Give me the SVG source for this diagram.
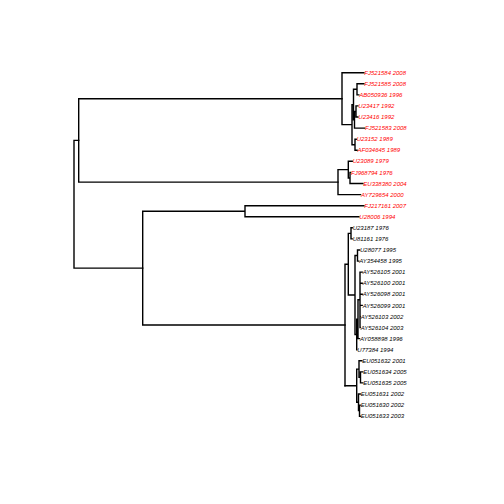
<svg xmlns="http://www.w3.org/2000/svg" width="504" height="504" viewBox="0 0 504 504">
<style>
.e{fill:none;stroke:#000;stroke-width:1.4;stroke-linecap:square}
text{font-family:"Liberation Sans",Arial,sans-serif;font-size:6px;font-style:italic}
.r{fill:#FF0000}
.k{fill:#000}
</style>
<rect width="504" height="504" fill="#fff"/>
<g id="connectors">
<!-- root -->
<path class="e" d="M74 140.4V268.1 M74 140.4H78.7 M74 268.1H142.7"/>
<!-- red super clade -->
<path class="e" d="M78.7 98.7V182.1 M78.7 98.7H342 M78.7 182.1H338"/>
<!-- red group 1 -->
<path class="e" d="M342 72.7V124.6 M342 72.7H363.8 M342 124.6H352 M352 104.6V144.7 M352 144.7H355 M355 139.2V150.3 M355 139.2H356.2 M355 150.3H357 M352 104.6H353.5 M353.5 89.3V119.8 M353.5 89.3H357 M357 83.8V94.9 M357 83.8H363.8 M357 94.9H358.8 M353.5 119.8H354.5 M354.5 111.5V128.1 M354.5 128.1H364.5 M354.5 111.5H356 M356 105.9V117 M356 105.9H357.8 M356 117H357.8"/>
<!-- red group 2 -->
<path class="e" d="M338 169.6V194.6 M338 194.6H360.5 M338 169.6H348.3 M348.3 161.3V177.95 M348.3 161.3H352.2 M348.3 177.95H350 M350 172.4V183.5 M350 172.4H350.5 M350 183.5H362.8"/>
<!-- lower super clade -->
<path class="e" d="M142.7 211.2V324.95 M142.7 211.2H245 M245 205.7V216.7 M245 205.7H363.8 M245 216.7H358.8 M142.7 324.95H345"/>
<!-- black group -->
<path class="e" d="M345 264.2V385.7 M345 264.2H348.3 M348.3 233.35V295 M348.3 233.35H351 M351 227.8V238.9 M351 227.8H352.2 M351 238.9H352.2 M348.3 295H355 M355 255.55V334.45 M355 255.55H357.5 M357.5 250V261.1 M357.5 250H359.5 M357.5 261.1H358.8 M355 334.45H356.7 M356.7 319.2V349.7 M356.7 349.7H356.8 M356.7 319.2H358 M358 299.8V338.6 M358 338.6H359.5 M358 299.8H360 M360 272.1V327.5 M360 272.1H362.2 M360 283.2H362.2 M360 294.3H362.2 M360 305.4H362.2 M360 316.5H360.2 M360 327.5H360.2"/>
<!-- EU group -->
<path class="e" d="M345 385.7H356.7 M356.7 369.1V402.3 M356.7 369.1H359 M359 360.8V377.4 M359 360.8H361.8 M359 377.4H360.5 M360.5 371.9V382.9 M360.5 371.9H362.8 M360.5 382.9H362.8 M356.7 402.3H358.5 M358.5 394V410.65 M358.5 394H360.2 M358.5 410.65H359.5 M359.5 405.1V416.2 M359.5 405.1H360.2 M359.5 416.2H360.2"/>
</g>
<g id="tip-FJ521584"><text class="r" x="364.3" y="74.8">FJ521584 2008</text></g>
<g id="tip-FJ521585"><text class="r" x="364.3" y="85.9">FJ521585 2008</text></g>
<g id="tip-AB050936"><text class="r" x="359.3" y="97">AB050936 1996</text></g>
<g id="tip-U23417"><text class="r" x="358.3" y="108">U23417 1992</text></g>
<g id="tip-U23416"><text class="r" x="358.3" y="119.1">U23416 1992</text></g>
<g id="tip-FJ521583"><text class="r" x="365" y="130.2">FJ521583 2008</text></g>
<g id="tip-U23152"><text class="r" x="356.7" y="141.3">U23152 1989</text></g>
<g id="tip-AF034645"><text class="r" x="357.5" y="152.4">AF034645 1989</text></g>
<g id="tip-U23089"><text class="r" x="352.7" y="163.4">U23089 1979</text></g>
<g id="tip-FJ968794"><text class="r" x="351" y="174.5">FJ968794 1976</text></g>
<g id="tip-EU338380"><text class="r" x="363.3" y="185.6">EU338380 2004</text></g>
<g id="tip-AY729654"><text class="r" x="361" y="196.7">AY729654 2000</text></g>
<g id="tip-FJ217161"><text class="r" x="364.3" y="207.8">FJ217161 2007</text></g>
<g id="tip-U28006"><text class="r" x="359.3" y="218.8">U28006 1994</text></g>
<g id="tip-U23187"><text class="k" x="352.7" y="229.9">U23187 1976</text></g>
<g id="tip-U81161"><text class="k" x="352.7" y="241">U81161 1976</text></g>
<g id="tip-U28077"><text class="k" x="360" y="252.1">U28077 1995</text></g>
<g id="tip-AY354458"><text class="k" x="359.3" y="263.2">AY354458 1995</text></g>
<g id="tip-AY526105"><text class="k" x="362.7" y="274.2">AY526105 2001</text></g>
<g id="tip-AY526100"><text class="k" x="362.7" y="285.3">AY526100 2001</text></g>
<g id="tip-AY526098"><text class="k" x="362.7" y="296.4">AY526098 2001</text></g>
<g id="tip-AY526099"><text class="k" x="362.7" y="307.5">AY526099 2001</text></g>
<g id="tip-AY526103"><text class="k" x="360.7" y="318.6">AY526103 2002</text></g>
<g id="tip-AY526104"><text class="k" x="360.7" y="329.6">AY526104 2003</text></g>
<g id="tip-AY058898"><text class="k" x="360" y="340.7">AY058898 1996</text></g>
<g id="tip-U77384"><text class="k" x="357.3" y="351.8">U77384 1994</text></g>
<g id="tip-EU051632"><text class="k" x="362.3" y="362.9">EU051632 2001</text></g>
<g id="tip-EU051634"><text class="k" x="363.3" y="374">EU051634 2005</text></g>
<g id="tip-EU051635"><text class="k" x="363.3" y="385">EU051635 2005</text></g>
<g id="tip-EU051631"><text class="k" x="360.7" y="396.1">EU051631 2002</text></g>
<g id="tip-EU051630"><text class="k" x="360.7" y="407.2">EU051630 2002</text></g>
<g id="tip-EU051633"><text class="k" x="360.7" y="418.3">EU051633 2003</text></g>
</svg>
